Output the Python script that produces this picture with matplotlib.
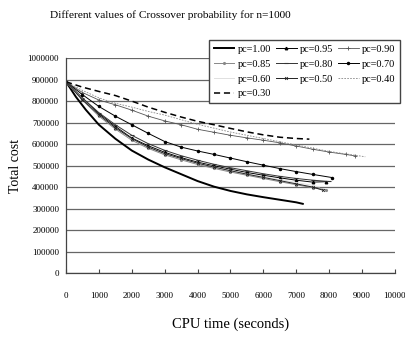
import matplotlib
matplotlib.use("Agg")
import matplotlib.pyplot as plt

plt.rcParams['font.family'] = ['Liberation Serif', 'DejaVu Serif']

# CPU time (s) and total cost for each crossover probability
t_100 = [0, 300, 600, 1000, 1500, 2000, 2500, 3000, 3500, 4000, 4500, 5000, 5500, 6000, 6500, 7000, 7200]
c_100 = [890000, 820000, 760000, 690000, 625000, 570000, 528000, 492000, 460000, 428000, 402000, 382000, 366000, 353000, 341000, 329000, 322000]

t_095 = [0, 500, 1000, 1500, 2000, 2500, 3000, 3500, 4000, 4500, 5000, 5500, 6000, 6500, 7000, 7500, 7900]
c_095 = [890000, 812000, 742000, 682000, 628000, 592000, 562000, 537000, 516000, 499000, 483000, 468000, 455000, 443000, 432000, 423000, 425000]

t_090 = [0, 500, 1000, 1500, 2000, 2500, 3000, 3500, 4000, 4500, 5000, 5500, 6000, 6500, 7000, 7500, 8000, 8500, 8800]
c_090 = [890000, 840000, 805000, 783000, 758000, 730000, 708000, 690000, 669000, 655000, 641000, 629000, 618000, 606000, 591000, 576000, 563000, 552000, 545000]

t_085 = [0, 500, 1000, 1500, 2000, 2500, 3000, 3500, 4000, 4500, 5000, 5500, 6000, 6500, 7000, 7500, 7900]
c_085 = [890000, 805000, 730000, 670000, 618000, 580000, 550000, 527000, 505000, 487000, 470000, 455000, 440000, 425000, 411000, 397000, 388000]

t_080 = [0, 500, 1000, 1500, 2000, 2500, 3000, 3500, 4000, 4500, 5000, 5500, 6000, 6500, 7000, 7500, 8000]
c_080 = [890000, 815000, 746000, 690000, 641000, 602000, 571000, 546000, 525000, 506000, 490000, 476000, 462000, 450000, 440000, 432000, 426000]

t_070 = [0, 500, 1000, 1500, 2000, 2500, 3000, 3500, 4000, 4500, 5000, 5500, 6000, 6500, 7000, 7500, 8100]
c_070 = [890000, 830000, 775000, 730000, 690000, 650000, 612000, 586000, 568000, 552000, 535000, 518000, 502000, 486000, 472000, 459000, 444000]

t_060 = [0, 500, 1000, 1500, 2000, 2500, 3000, 3500, 4000, 4500, 5000, 5500, 6000, 6500, 7000, 7500, 7700]
c_060 = [890000, 808000, 735000, 676000, 624000, 586000, 556000, 532000, 511000, 494000, 478000, 462000, 448000, 435000, 421000, 408000, 400000]

t_050 = [0, 500, 1000, 1500, 2000, 2500, 3000, 3500, 4000, 4500, 5000, 5500, 6000, 6500, 7000, 7500, 7800]
c_050 = [890000, 806000, 736000, 676000, 626000, 586000, 556000, 533000, 511000, 493000, 476000, 460000, 445000, 430000, 415000, 400000, 386000]

t_040 = [0, 500, 1000, 1500, 2000, 2500, 3000, 4000, 5000, 6000, 7000, 8000, 9100]
c_040 = [890000, 850000, 815000, 790000, 772000, 752000, 735000, 692000, 656000, 626000, 596000, 566000, 541000]

t_030 = [0, 500, 1000, 1500, 2000, 2500, 3000, 3500, 4000, 4500, 5000, 5500, 6000, 6500, 7000, 7400]
c_030 = [890000, 865000, 845000, 826000, 800000, 772000, 748000, 726000, 706000, 690000, 673000, 657000, 643000, 632000, 626000, 623000]

labels = ['pc=1.00', 'pc=0.95', 'pc=0.90', 'pc=0.85', 'pc=0.80',
          'pc=0.70', 'pc=0.60', 'pc=0.50', 'pc=0.40', 'pc=0.30']
x_ticks = [0, 1000, 2000, 3000, 4000, 5000, 6000, 7000, 8000, 9000, 10000]
y_ticks = [0, 100000, 200000, 300000, 400000, 500000, 600000, 700000, 800000, 900000, 1000000]

fig = plt.figure(figsize=(4.06, 3.40), dpi=100)
ax = fig.add_axes([0.1626, 0.197, 0.810, 0.632])

ax.plot(t_100, c_100, color='black', lw=1.4, label=labels[0])
ax.plot(t_095, c_095, color='black', lw=0.7, marker='^', ms=1.8, label=labels[1])
ax.plot(t_090, c_090, color='#555555', lw=0.6, marker='+', ms=3, mew=0.6, label=labels[2])
ax.plot(t_085, c_085, color='#888888', lw=0.7, marker='.', ms=2.5, label=labels[3])
ax.plot(t_080, c_080, color='#333333', lw=0.7, marker='_', ms=3, mew=0.8, label=labels[4])
ax.plot(t_070, c_070, color='black', lw=0.7, marker='o', ms=1.5, label=labels[5])
ax.plot(t_060, c_060, color='#e0e0e0', lw=0.7, label=labels[6])
ax.plot(t_050, c_050, color='#222222', lw=0.7, marker='x', ms=2, mew=0.6, label=labels[7])
ax.plot(t_040, c_040, color='#888888', lw=0.6, ls=(0, (2, 1.5)), label=labels[8])
ax.plot(t_030, c_030, color='black', lw=1.1, ls=(0, (4, 2.5)), label=labels[9])

ax.set_xlim(0, 10000)
ax.set_ylim(0, 1000000)
ax.set_xticks(x_ticks)
ax.set_yticks(y_ticks)
ax.set_xticklabels([str(v) for v in x_ticks], fontsize=6.5)
ax.set_yticklabels([str(v) for v in y_ticks], fontsize=6.5)
ax.tick_params(axis='x', direction='in', length=3, width=0.8, color='#444444', pad=14)
ax.tick_params(axis='y', length=0, pad=5)

ax.yaxis.grid(True, color='#666666', lw=0.9)
ax.set_axisbelow(True)
for s in ['top', 'right']:
    ax.spines[s].set_visible(False)
for s in ['left', 'bottom']:
    ax.spines[s].set_color('#444444')
    ax.spines[s].set_linewidth(0.9)

ax.set_xlabel('CPU time (seconds)', fontsize=10.5, labelpad=12)
ax.set_ylabel('Total cost', fontsize=10)
ax.yaxis.set_label_coords(-0.134, 0.5)
fig.text(0.123, 0.955, 'Different values of Crossover probability for n=1000', fontsize=8.2, va='center')

# legend fills row by row in the original
handles, labs = ax.get_legend_handles_labels()
order = [0, 3, 6, 9, 1, 4, 7, 2, 5, 8]
ax.legend([handles[i] for i in order], [labs[i] for i in order],
          loc='upper right', bbox_to_anchor=(0.985, 0.882), bbox_transform=fig.transFigure,
          borderaxespad=0, ncol=3, fontsize=7.4, frameon=True, fancybox=False, edgecolor='#444444',
          handlelength=2.0, handletextpad=0.3, columnspacing=0.5, labelspacing=0.55,
          borderpad=0.45, framealpha=1)

fig.savefig('out.png', dpi=100)
